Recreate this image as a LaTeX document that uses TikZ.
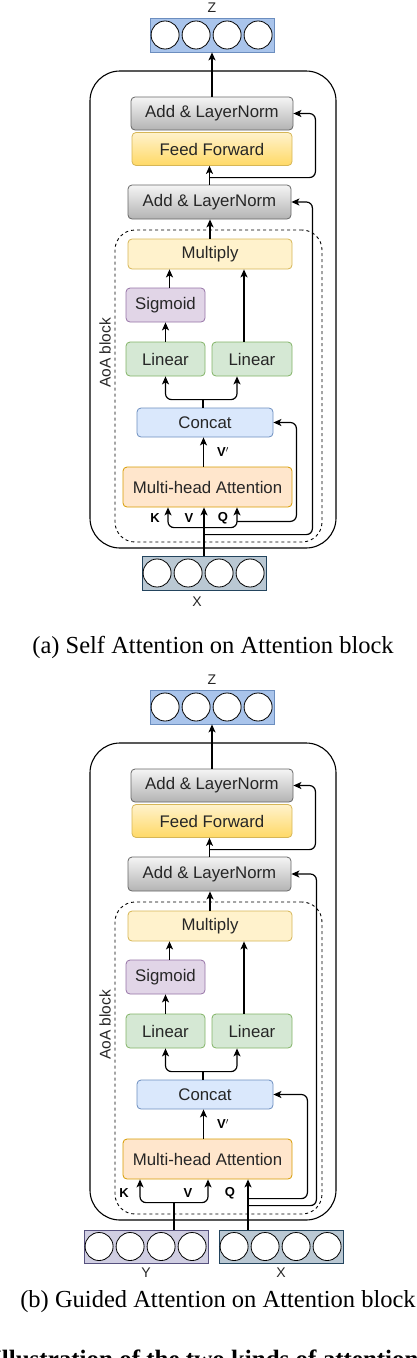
\documentclass[tikz,border=0pt]{standalone}
\usepackage{fontspec}
\setmainfont{Liberation Sans}
\newfontfamily\capfont{Liberation Serif}
\usetikzlibrary{arrows.meta,calc}

\definecolor{graytop}{HTML}{F5F5F5}
\definecolor{graybot}{HTML}{B3B3B3}
\definecolor{grayline}{HTML}{666666}
\definecolor{fftop}{HTML}{FFF2CC}
\definecolor{ffbot}{HTML}{FFD966}
\definecolor{yelline}{HTML}{D6B656}
\definecolor{sigfill}{HTML}{E1D5E7}
\definecolor{sigline}{HTML}{9673A6}
\definecolor{linfill}{HTML}{D5E8D4}
\definecolor{linline}{HTML}{82B366}
\definecolor{catfill}{HTML}{DAE8FC}
\definecolor{catline}{HTML}{6C8EBF}
\definecolor{mhafill}{HTML}{FFE6CC}
\definecolor{mhaline}{HTML}{D79B00}
\definecolor{zfill}{HTML}{A9C4EB}
\definecolor{xfill}{HTML}{BAC8D3}
\definecolor{xline}{HTML}{23445D}
\definecolor{yfill}{HTML}{D0CEE2}
\definecolor{yline}{HTML}{56517E}

\tikzset{
  blk/.style={draw, rounded corners=4pt, line width=0.8pt, inner sep=0pt, text=black!85,
    font=\fontsize{16.8}{18}\selectfont},
  normbox/.style={blk, draw=grayline, top color=graytop, bottom color=graybot, minimum width=162, minimum height=33},
  ffbox/.style={blk, draw=yelline, top color=fftop, bottom color=ffbot, minimum width=160, minimum height=33},
  multbox/.style={blk, draw=yelline, fill=fftop, minimum width=164, minimum height=30},
  sigbox/.style={blk, draw=sigline, fill=sigfill, minimum width=79, minimum height=34},
  linbox/.style={blk, draw=linline, fill=linfill, minimum width=79, minimum height=34},
  catbox/.style={blk, draw=catline, fill=catfill, minimum width=136, minimum height=29},
  mhabox/.style={blk, draw=mhaline, fill=mhafill, minimum width=169, minimum height=40},
  vecbox/.style={draw, line width=0.8pt, inner sep=0pt, minimum width=124, minimum height=34},
  vcirc/.style={draw=black, line width=0.8pt, fill=white},
  outerbox/.style={draw, line width=1.1pt, rounded corners=30pt, inner sep=0pt, minimum width=246, minimum height=477},
  aoabox/.style={draw, dashed, line width=0.9pt, rounded corners=20pt, inner sep=0pt, minimum width=207, minimum height=312},
  lbl/.style={inner sep=0pt, text=black!85, font=\fontsize{14}{16}\selectfont},
  kvq/.style={inner sep=0pt, font=\bfseries\fontsize{13}{15}\selectfont},
  conn/.style={line width=1.2pt},
  arr/.style={conn, -{Stealth[length=8pt,width=7pt,inset=2pt]}},
}

% shared part of both blocks, from Z down to the attention box
\newcommand{\aoacore}{%
  \node[outerbox] (outer) at (213,309.5) {};
  \node[aoabox] (aoa) at (218.5,386) {};
  \node[lbl, rotate=90, font=\fontsize{15.5}{17}\selectfont] (aoalab) at (105,353) {AoA block};
  \node[lbl] (zlab) at (212,8) {Z};
  \node[vecbox, fill=zfill, draw=catline] (z) at (212,35) {};
  \foreach \i in {0,...,3} \draw[vcirc] ([xshift=15.5+31*\i]z.west) circle[radius=14pt];
  \node[normbox] (addtop) at (212,113.5) {Add \& LayerNorm};
  \node[ffbox] (ff) at (212,149) {Feed Forward};
  \node[normbox, minimum width=163, minimum height=34] (addbot) at (209.5,202) {Add \& LayerNorm};
  \node[multbox] (mult) at (210,254) {Multiply};
  \node[sigbox] (sigm) at (165.5,305) {Sigmoid};
  \node[linbox] (linl) at (165.5,359) {Linear};
  \node[linbox, minimum width=80] (linr) at (252,359) {Linear};
  \node[catbox] (concat) at (205,422.5) {Concat};
  \node[mhabox] (mha) at (207.5,487) {Multi-head Attention};
  \node[kvq] (vprime) at (223,452) {V$'$};
  %
  \draw[arr] (addtop) -- (z);
  \draw[arr] (addbot.north) -- (addbot.north |- ff.south);
  \draw[arr, rounded corners=6] ([yshift=7]addbot.north) -| ([xshift=22]addtop.east) -- (addtop.east);
  \draw[arr] (mult.north) -- (mult.north |- addbot.south);
  \draw[arr] ([xshift=4]sigm.north) -- ([xshift=4]sigm.north |- mult.south);
  \draw[arr] (linl) -- (sigm);
  \draw[arr] ([xshift=-8]linr.north) -- ([xshift=-8]linr.north |- mult.south);
  \draw[conn] ([xshift=-2]concat.north) -- ++(0,-8) coordinate (split);
  \draw[arr, rounded corners=6] (split) -| (linl.south);
  \draw[arr, rounded corners=6] (split) -| ([xshift=-15]linr.south);
  \draw[arr] ([xshift=-4]mha.north) -- ([xshift=-4]mha.north |- concat.south);
}

\begin{document}
\begin{tikzpicture}[x=1pt, y=-1pt]
  \useasboundingbox (0,0) rectangle (416,1358);

  % (a) self attention
  \begin{scope}[name prefix=a-]
    \aoacore
    \node[vecbox, fill=xfill, draw=xline] (x) at (204,573) {};
    \foreach \i in {0,...,3} \draw[vcirc] ([xshift=15.5+31*\i]x.west) circle[radius=14pt];
    \node[lbl] (xlab) at (197,602) {X};
    \node[kvq] (klab) at (155,518) {K};
    \node[kvq] (vlab) at (189,518) {V};
    \node[kvq] (qlab) at (223,518) {Q};
    \draw[arr] (x.north) -- (x.north |- mha.south);
    \draw[conn] (x.north) -- ++(0,-28) coordinate (kq);
    \draw[arr, rounded corners=6] (kq) -| ([xshift=-39.5]mha.south);
    \draw[arr, rounded corners=6] (kq) -| ([xshift=29.5]mha.south);
    \draw[arr, rounded corners=6] ([xshift=29.5,yshift=-14]mha.south) -| ([xshift=23]concat.east) -- (concat.east);
    \draw[arr, rounded corners=6] ([yshift=21]x.north) -| ([xshift=21]addbot.east) -- (addbot.east);
  \end{scope}
  \node[font=\capfont\fontsize{24.5}{26}\selectfont] (capa) at (213,647) {(a) Self Attention on Attention block};

  % (b) guided attention
  \begin{scope}[name prefix=b-, yshift=-672pt]
    \aoacore
    \node[vecbox, fill=yfill, draw=yline, minimum height=33] (y) at (146,574.5) {};
    \foreach \i in {0,...,3} \draw[vcirc] ([xshift=15.5+31*\i]y.west) circle[radius=14pt];
    \node[vecbox, fill=xfill, draw=xline, minimum height=33] (x) at (281,574.5) {};
    \foreach \i in {0,...,3} \draw[vcirc] ([xshift=15.5+31*\i]x.west) circle[radius=14pt];
    \node[lbl] (ylab) at (146,601) {Y};
    \node[lbl] (xlab) at (281,601) {X};
    \node[kvq] (klab) at (124,521) {K};
    \node[kvq] (vlab) at (188,521) {V};
    \node[kvq] (qlab) at (230,521) {Q};
    \draw[conn] ([xshift=28]y.north) -- ++(0,-27) coordinate (kv);
    \draw[arr, rounded corners=6] (kv) -| ([xshift=-67.5]mha.south);
    \draw[arr, rounded corners=6] (kv) -| ([xshift=0.5]mha.south);
    \draw[arr] ([xshift=-33]x.north) -- ([xshift=-33]x.north |- mha.south);
    \draw[arr, rounded corners=6] ([xshift=-33,yshift=31]x.north) -| ([xshift=34]concat.east) -- (concat.east);
    \draw[arr, rounded corners=6] ([xshift=-33,yshift=24]x.north) -| ([xshift=25]addbot.east) -- (addbot.east);
  \end{scope}
  \node[font=\capfont\fontsize{24.5}{26}\selectfont] (capb) at (218,1302) {(b) Guided Attention on Attention block};

  % figure caption, cut by the border
  \begin{scope}
    \clip (0,1340) rectangle (416,1358);
    \node[anchor=base west, inner sep=0pt, font=\capfont\bfseries\fontsize{25}{27}\selectfont] (fig) at (-8,1367) {Illustration of the two kinds of attention};
  \end{scope}
\end{tikzpicture}
\end{document}
